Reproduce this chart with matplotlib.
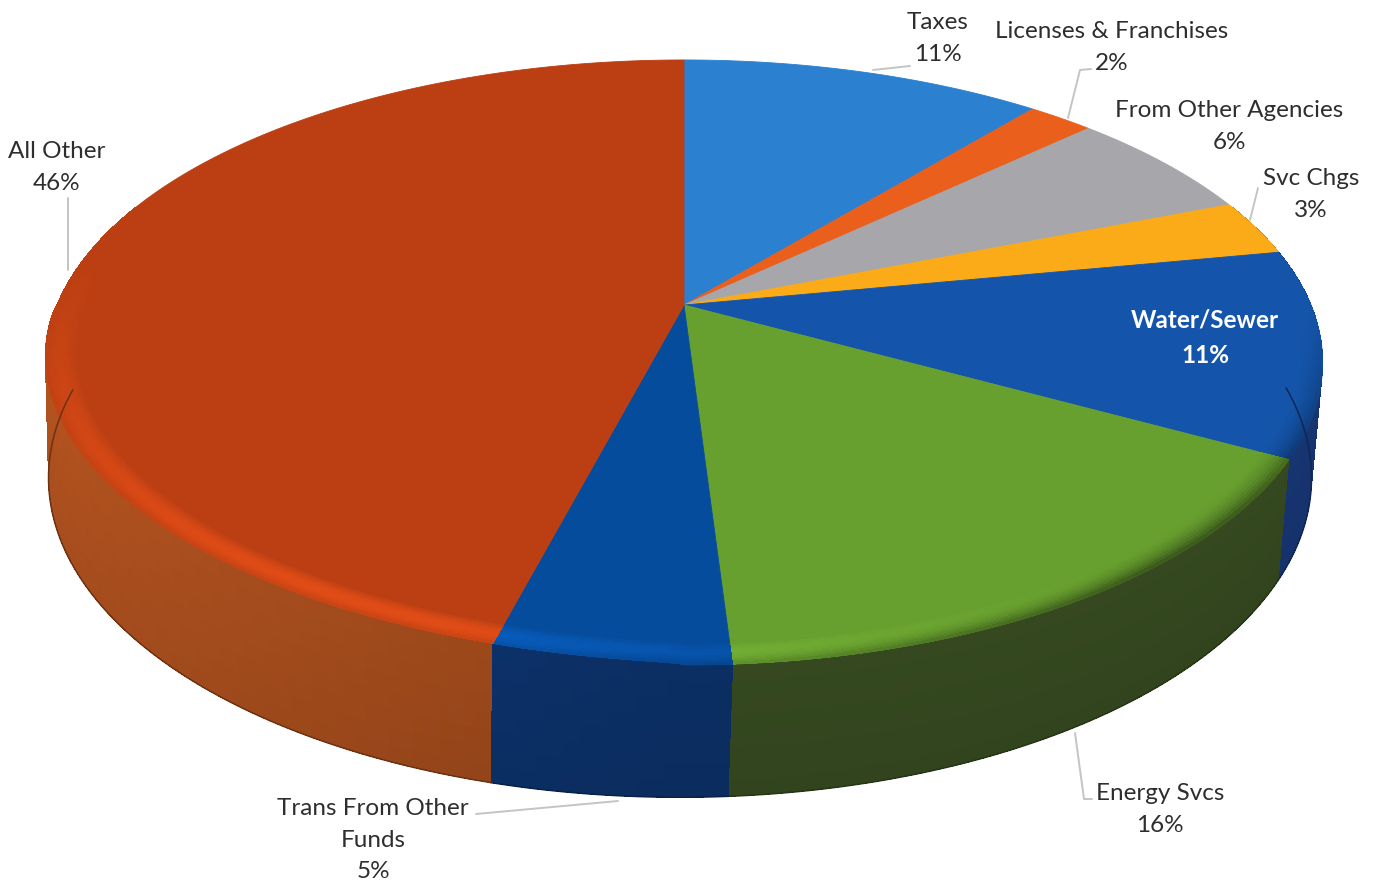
import matplotlib
matplotlib.use('Agg')
import matplotlib.pyplot as plt
import numpy as np
from matplotlib.collections import PolyCollection

# Slices run clockwise from 12 o'clock
categories = ['Taxes', 'Licenses & Franchises', 'From Other Agencies', 'Svc Chgs',
              'Water/Sewer', 'Energy Svcs', 'Trans From Other\nFunds', 'All Other']
shares = [11, 2, 6, 3, 11, 16, 5, 46]

top_colors = ['#2b80d0', '#ea5f1c', '#a6a6ab', '#fbaa18',
              '#1455ab', '#68a02f', '#064c9c', '#bb3f13']
side_colors = ['#1c5590', '#a04010', '#707074', '#b07810',
               '#16336e', '#33461f', '#0b2d60', '#8f4219']

# label anchors (centre x, centre y of the first line)
label_x = [938, 1112, 1229, 1311, 1205, 1160, 373, 57]
label_y = [21, 30, 109, 177, 318, 792, 807, 150]

leaders = [[(873, 70), (910, 66)],
           [(1068, 118), (1080, 70), (1091, 69)],
           [(1250, 220), (1258, 188)],
           [(1075, 733), (1084, 799), (1092, 799)],
           [(476, 814), (618, 801)],
           [(68, 270), (68, 198)]]

# Perspective disc: centre goes to (cx, cy), k is the foreshortening
k = 0.19


def project(theta, r, cx, cy, a, b):
    u = r * np.sin(theta)
    v = r * np.cos(theta)
    w = 1 + k * v
    return cx + a * u / w, cy - b * v / w


def top(theta, r=1.0):
    x, y = project(theta, r, 684, 305, 627, 291.6)
    # the front left of the rim sits a little higher
    if np.pi < theta < 1.5 * np.pi:
        y -= 11 * np.sqrt(abs(np.sin(2 * theta))) * r ** 2
    return x, y


def bottom(theta):
    return project(theta, 1.0, 680, 417, 620, 308)


def rgb(c):
    return np.array(matplotlib.colors.to_rgb(c))


fig = plt.figure(figsize=(13.76, 8.84), dpi=100)
ax = fig.add_axes([0, 0, 1, 1])
ax.set_xlim(0, 1376)
ax.set_ylim(884, 0)
ax.axis('off')

edges = np.cumsum([0] + shares) / sum(shares) * 2 * np.pi

# side wall, split in short strips so the shading can vary
polys, cols, depth = [], [], []
n_down = 8
for i in range(len(shares)):
    n = max(2, int((edges[i + 1] - edges[i]) / 0.012))
    th = np.linspace(edges[i], edges[i + 1], n + 1)
    for j in range(n):
        t0, t1 = th[j], th[j + 1]
        if np.cos(t0) > 0.35 and np.cos(t1) > 0.35:
            continue
        x0t, y0t = top(t0)
        x1t, y1t = top(t1)
        x0b, y0b = bottom(t0)
        x1b, y1b = bottom(t1)
        # lit from the left
        light = 1.0 + 0.22 * max(-np.sin(t0), 0)
        for s in range(n_down):
            a0, a1 = s / n_down, (s + 1) / n_down
            polys.append([(x0t + (x0b - x0t) * a0, y0t + (y0b - y0t) * a0),
                          (x1t + (x1b - x1t) * a0, y1t + (y1b - y1t) * a0),
                          (x1t + (x1b - x1t) * a1, y1t + (y1b - y1t) * a1),
                          (x0t + (x0b - x0t) * a1, y0t + (y0b - y0t) * a1)])
            c = rgb(side_colors[i]) * light * (1.03 - 0.06 * a0)
            cols.append(np.clip(c, 0, 1))
            depth.append(-np.cos(t0))
order = np.argsort(depth)
ax.add_collection(PolyCollection([polys[o] for o in order],
                                 facecolors=[cols[o] for o in order],
                                 edgecolors='none', antialiaseds=False))

# dark line along the base of the wall
for i in range(len(shares)):
    th = np.linspace(edges[i], edges[i + 1], 120)
    th = th[np.cos(th) < 0.1]
    if len(th) > 1:
        xs, ys = zip(*[bottom(t) for t in th])
        ax.plot(xs, ys, color=rgb(side_colors[i]) * 0.75, lw=1.1)

# flat top face
for i in range(len(shares)):
    th = np.linspace(edges[i], edges[i + 1], 200)
    pts = [(684, 305)] + [top(t) for t in th]
    ax.fill(*zip(*pts), facecolor=top_colors[i], edgecolor=top_colors[i], lw=0.6)

# bevel along the front rim: lit on the left, falling into shadow on the right
rings = np.linspace(0.955, 1.0, 10)
polys, cols = [], []
for i in range(len(shares)):
    base = rgb(top_colors[i])
    n = max(2, int((edges[i + 1] - edges[i]) / 0.012))
    th = np.linspace(edges[i], edges[i + 1], n + 1)
    for j in range(n):
        t0, t1 = th[j], th[j + 1]
        lit = np.clip(-np.cos(t0) + 0.15, 0, 1) * np.clip(0.7 - np.sin(t0), 0, 1)
        dark = np.clip(-np.cos(t0) * 1.3, 0, 1) * np.clip(np.sin(t0) + 0.2, 0, 1)
        if lit == 0 and dark == 0:
            continue
        for m in range(len(rings) - 1):
            r0, r1 = rings[m], rings[m + 1]
            a = (m + 1) / (len(rings) - 1)
            polys.append([top(t0, r0), top(t1, r0), top(t1, r1), top(t0, r1)])
            c = base * (1 + 0.2 * lit * np.sin(a * np.pi * 0.85))
            c = c * (1 - 0.5 * dark * a ** 2)
            cols.append(np.clip(c, 0, 1))
ax.add_collection(PolyCollection(polys, facecolors=cols, edgecolors='none', antialiaseds=False))

for line in leaders:
    xs, ys = zip(*line)
    ax.plot(xs, ys, color='#c4c4c4', lw=1.4, solid_capstyle='round')

for name, share, x, y in zip(categories, shares, label_x, label_y):
    inside = name == 'Water/Sewer'
    ax.text(x, y - 9, name + '\n' + str(share) + '%', ha='center', va='top',
            fontfamily='Lato', fontsize=17.5, linespacing=1.62,
            color='white' if inside else '#2e2e2e',
            fontweight='bold' if inside else 'normal')

fig.savefig('out.png', dpi=100, facecolor='white')
